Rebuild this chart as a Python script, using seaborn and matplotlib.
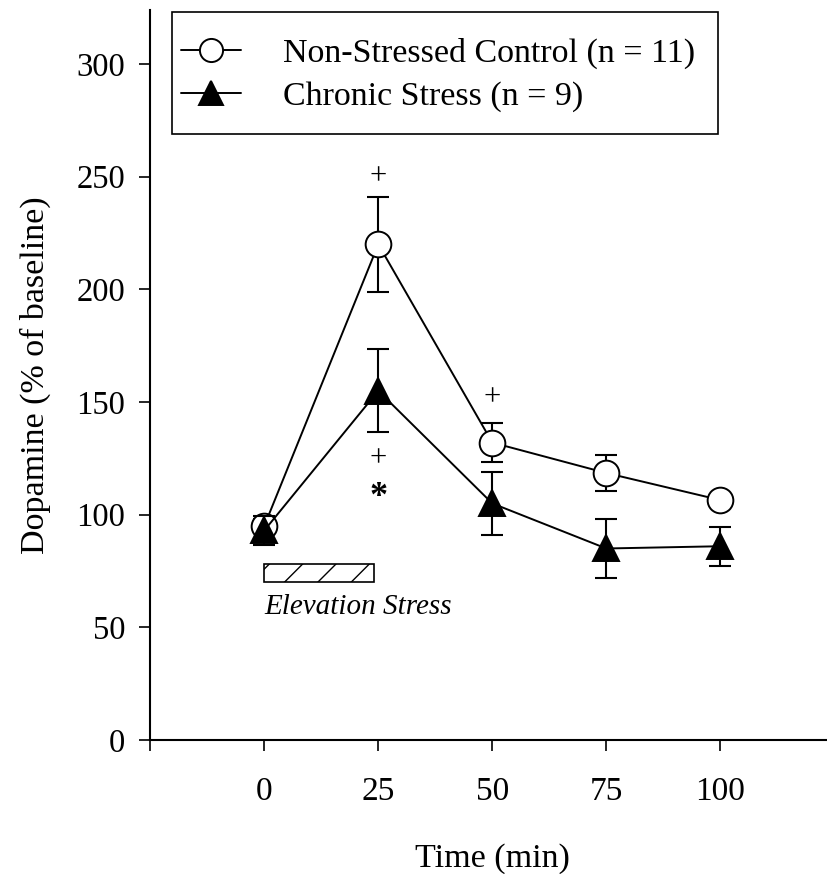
import numpy as np
import pandas as pd
import matplotlib
matplotlib.use('Agg')
import matplotlib.pyplot as plt
import seaborn as sns
from matplotlib.patches import Rectangle

# data
time_min = [0, 25, 50, 75, 100]
control_mean = [95, 220, 132, 118.5, 106.5]
control_sem = [3, 21, 8.7, 8, 2]
stress_mean = [93, 155, 105, 85, 86]
stress_sem = [6.5, 18.5, 13.8, 12.9, 8.7]

control_label = 'Non-Stressed Control (n = 11)'
stress_label = 'Chronic Stress (n = 9)'

# significance symbols (x, y, symbol)
sig_x = [25, 25, 50, 25]
sig_y = [250, 125, 152, 107.5]
sig_sym = ['+', '+', '+', '*']

# stress period bar
stress_start, stress_end = 0, 24
bar_low, bar_high = 70, 78

df = pd.DataFrame({
    'time': time_min * 2,
    'mean': control_mean + stress_mean,
    'sem': control_sem + stress_sem,
    'group': [control_label] * 5 + [stress_label] * 5,
})

sns.set_style('ticks')
plt.rcParams['font.family'] = ['Liberation Serif', 'DejaVu Serif']
for key in ['text.color', 'axes.labelcolor', 'xtick.color', 'ytick.color', 'axes.edgecolor']:
    plt.rcParams[key] = 'black'

fig = plt.figure(figsize=(8.27, 8.74), dpi=100)
ax = fig.add_axes([150.3 / 827, 134 / 874, 684 / 827, 730 / 874])

styles = {
    control_label: dict(marker='o', mfc='white', zorder=3),
    stress_label: dict(marker='^', mfc='black', zorder=4),
}

for grp, st in styles.items():
    sub = df[df['group'] == grp]
    ax.errorbar(sub['time'], sub['mean'], yerr=sub['sem'], fmt='none',
                ecolor='black', elinewidth=1.5, capsize=8, capthick=1.5,
                zorder=st['zorder'] - 0.5)
    sns.lineplot(data=sub, x='time', y='mean', ax=ax, color='black',
                 marker=st['marker'], markersize=18.5, markerfacecolor=st['mfc'],
                 markeredgecolor='black', markeredgewidth=1.4, linewidth=1.4,
                 label=grp, zorder=st['zorder'], legend=False)

for x, y, s in zip(sig_x, sig_y, sig_sym):
    if s == '*':
        ax.text(x, y, s, ha='center', va='center', fontsize=26, fontweight='bold')
    else:
        ax.text(x, y, s, ha='center', va='center', fontsize=22)

ax.add_patch(Rectangle((stress_start, bar_low), stress_end - stress_start,
                       bar_high - bar_low, facecolor='white', edgecolor='black',
                       hatch='/', linewidth=1.2))
ax.text(stress_start, 56, 'Elevation Stress', ha='left', va='baseline',
        fontsize=21, style='italic')

ax.set_xlim(-25, 125)
ax.set_ylim(0, 324)
ax.set_xticks([-25, 0, 25, 50, 75, 100, 125])
ax.set_xticklabels(['', '0', '25', '50', '75', '100', ''])
ax.set_yticks([0, 50, 100, 150, 200, 250, 300])
ax.tick_params(direction='out', length=8, width=1.2)
ax.tick_params(axis='x', pad=18.5, labelsize=24)
ax.tick_params(axis='y', pad=10, labelsize=23.5)
for side in ['top', 'right']:
    ax.spines[side].set_visible(False)
for side in ['left', 'bottom']:
    ax.spines[side].set_linewidth(1.5)

ax.set_xlabel('Time (min)', fontsize=24.5, labelpad=26)
ax.set_ylabel('Dopamine (% of baseline)', fontsize=24.5, labelpad=18)

# legend frame drawn as its own box, entries placed inside it
fig.patches.append(Rectangle((172 / 827, 1 - 134 / 874), (718 - 172) / 827, 122 / 874,
                             transform=fig.transFigure, facecolor='white',
                             edgecolor='black', linewidth=1.2, zorder=5))
handles, labels = ax.get_legend_handles_labels()
leg = fig.legend(handles, labels, loc='center left',
                 bbox_to_anchor=(181 / 827, 1 - 75 / 874), borderaxespad=0,
                 borderpad=0, frameon=False, fontsize=24.5, handlelength=1.75,
                 handletextpad=1.25, labelspacing=0.33, markerscale=0.9)
leg.set_zorder(6)

fig.savefig('out.png', dpi=100)
